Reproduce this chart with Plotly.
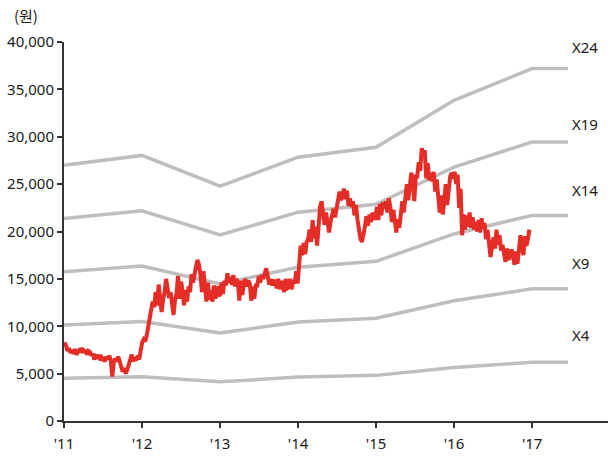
import pandas as pd
import plotly.graph_objects as go

# ---- Data ----
band_dates = ["2011-01-01", "2012-01-01", "2013-01-01", "2014-01-01",
              "2015-01-01", "2016-01-01", "2017-01-01", "2017-06-18"]
band_x4 = [4500, 4672, 4132, 4640, 4816, 5640, 6200, 6200]
band_x9 = [10125, 10512, 9297, 10440, 10836, 12690, 13950, 13950]
band_x14 = [15750, 16352, 14462, 16240, 16856, 19740, 21700, 21700]
band_x19 = [21375, 22192, 19627, 22040, 22876, 26790, 29450, 29450]
band_x24 = [27000, 28032, 24792, 27840, 28896, 33840, 37200, 37200]
band_names = ["X4", "X9", "X14", "X19", "X24"]
label_y = [9040, 16640, 24340, 31300, 39460]

price_2011 = [8300, 8000, 7400, 7700, 7200, 7500, 7100, 7600, 7000, 7300, 7500,
              7400, 7700, 7200, 7500, 7000, 7400, 7300,
              6900, 7100, 6500, 6800, 6600, 7000, 6400, 6700, 6500,
              6300, 6800, 6500, 6900, 6400, 4700, 6200, 6600, 6300, 6800, 6200,
              5800, 5200, 5600, 5000, 5400, 5900, 6400, 7000, 6300,
              6700, 6400, 6900, 6500, 7800]
price_2012 = [8300, 8600, 8400, 9000, 9800, 10700, 11500, 12600, 12000,
              13600, 12200, 14400, 13000, 11500, 12800, 13600, 15000, 14000,
              13000, 13600, 12200, 11200, 12800, 13500, 15300, 12900, 14700, 13800,
              12200, 13800, 12600, 14200, 13600, 15500, 14600, 15800,
              16300, 17000, 16500, 15400, 13600, 15800, 14300,
              12600, 14600, 12800, 13800, 12600, 14300, 12900, 14200, 13400]
price_2013 = [13200, 14600, 13400, 14800, 14300, 15600, 14600, 15200,
              14400, 15400, 14200, 15000, 14600, 12700, 14800, 13300,
              14400, 15000, 14200, 14800, 14500, 12700, 14200, 12900, 14300,
              14300, 15300, 14600, 15400, 15000, 15600, 16100, 15300,
              14400, 15000, 14300, 14900, 14600, 14000, 15000, 13900, 14800, 14300,
              13600, 15000, 14000, 14100, 15000, 13900, 14800, 14500, 15800]
price_2014 = [14500, 16400, 18500, 17500, 18800, 17600, 18900, 19200, 20200, 18900,
              21200, 19300, 20500, 18500, 21000, 22600, 23200, 22000,
              20700, 22000, 20500, 19900, 21000, 21600, 22400, 21500, 22300,
              23000, 24200, 23300, 24000, 24500, 23400, 24300, 22700, 23500, 22600,
              23200, 21700, 22800, 21300, 20000, 19200, 18900, 19600,
              20500, 21600, 20600, 21800, 21000, 22000, 21400]
price_2015 = [21400, 22600, 21200, 22900, 21700, 23100, 22400, 23200, 22000, 23500,
              22500, 21000, 22300, 20600, 19900, 21300, 20400, 21800, 23200, 22000,
              23500, 25000, 23300, 24800, 26200, 25200, 23200, 25800,
              25800, 27300, 26400, 28800, 27800, 28600, 25600, 27200, 25400,
              26200, 25300, 26300, 24200, 25500, 23600, 22000, 23800, 21800,
              23000, 25000, 22800, 24600, 25800, 26200]
price_2016 = [25600, 26300, 25000, 26000, 22500, 24500, 19600, 21800, 20200,
              21700, 20500, 22000, 20400, 21500, 20200, 21000, 20000,
              21200, 19900, 21400, 20300, 20900, 19200, 20200, 18800, 17300, 18400,
              19400, 18200, 20200, 18600, 19600, 18000, 18600, 17700,
              16800, 18200, 17000, 17600, 18100, 17400, 16500, 17900, 16600, 18000,
              19600, 18500, 17500, 19500, 18500, 19200, 20200]
price_values = price_2011 + price_2012 + price_2013 + price_2014 + price_2015 + price_2016
price_dates = pd.date_range("2011-01-03", periods=len(price_values), freq="7D")

tick_dates = ["2011-01-01", "2012-01-01", "2013-01-01", "2014-01-01",
              "2015-01-01", "2016-01-01", "2017-01-01"]
tick_text = ["'11", "'12", "'13", "'14", "'15", "'16", "'17"]
label_x = "2017-06-28"

# ---- Figure ----
FONT = "Noto Sans, sans-serif"
KFONT = "Noto Sans CJK KR, sans-serif"
BAND_COLOR = "#BEBEBE"
RED = "#E52D27"
TXT = "#1a1a1a"

fig = go.Figure()
for vals in [band_x4, band_x9, band_x14, band_x19, band_x24]:
    fig.add_trace(go.Scatter(x=band_dates, y=vals, mode="lines",
                             line=dict(color=BAND_COLOR, width=3.5),
                             showlegend=False, hoverinfo="skip"))
fig.add_trace(go.Scatter(x=price_dates, y=price_values, mode="lines",
                         line=dict(color=RED, width=4),
                         showlegend=False))

for name, yv in zip(band_names, label_y):
    fig.add_annotation(x=label_x, y=yv, text=name, showarrow=False,
                       xanchor="left", yanchor="middle",
                       font=dict(family=FONT, size=15, color=TXT))

fig.add_annotation(x=0, y=1, xref="paper", yref="paper", text="(원)",
                   showarrow=False, xanchor="left", yanchor="bottom",
                   xshift=-52, yshift=14,
                   font=dict(family=KFONT, size=15, color=TXT))

fig.update_layout(
    width=609, height=456,
    margin=dict(l=64, r=1, t=42, b=35, autoexpand=False),
    paper_bgcolor="white", plot_bgcolor="white",
    font=dict(family=FONT, size=15, color=TXT),
    xaxis=dict(type="date", range=["2011-01-01", "2017-12-22"],
               tickvals=tick_dates, ticktext=tick_text, automargin=False,
               ticklabelstandoff=3,
               showgrid=False, zeroline=False,
               showline=True, linecolor="#333333", linewidth=2,
               ticks="outside", ticklen=5, tickwidth=1.5, tickcolor="#333333"),
    yaxis=dict(range=[0, 40000], dtick=5000, tickformat=",", automargin=False,
               showgrid=False, zeroline=False,
               showline=True, linecolor="#333333", linewidth=2,
               ticks="outside", ticklen=5, tickwidth=1.5, tickcolor="#333333"),
)

fig.write_html("out.html", config={"displayModeBar": False},
               post_script="document.body.style.margin='0';document.body.style.padding='0';")
